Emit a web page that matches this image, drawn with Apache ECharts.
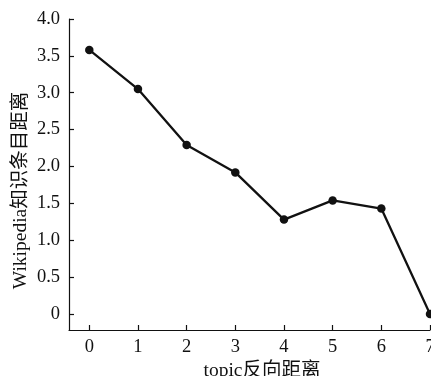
<!DOCTYPE html>
<html>
<head>
<meta charset="utf-8">
<script src="https://cdn.jsdelivr.net/npm/echarts@6/dist/echarts.min.js"></script>
<style>
  html, body { margin: 0; padding: 0; background: #fff; }
  #chart { width: 431px; height: 376px; }
</style>
</head>
<body>
<div id="chart"></div>
<script>
// topic 反向距离 vs Wikipedia 知识条目距离
const topicDist = [0, 1, 2, 3, 4, 5, 6, 7]
const wikiDist = [3.58, 3.05, 2.29, 1.92, 1.28, 1.54, 1.43, 0]
const xTicks = [0, 1, 2, 3, 4, 5, 6, 7]
const yTicks = [0, 0.5, 1.0, 1.5, 2.0, 2.5, 3.0, 3.5, 4.0]

const ink = '#111'
const font = '"Liberation Serif", "Noto Sans CJK SC", serif'

const chart = echarts.init(document.getElementById('chart'))
chart.setOption({
    animation: false,
    grid: { left: 69, right: 1, top: 19, bottom: 46, containLabel: false, outerBoundsMode: 'none' },
    xAxis: {
        type: 'value',
        min: -0.417,
        max: 7,
        name: 'topic反向距离',
        nameLocation: 'middle',
        nameGap: 27,
        nameTextStyle: { color: ink, fontSize: 19.5, fontFamily: font, padding: [0, 0, 0, 25] },
        axisLine: { onZero: false, lineStyle: { color: ink, width: 1.2 } },
        axisTick: { inside: true, length: 5, customValues: xTicks, lineStyle: { color: ink, width: 1.2 } },
        axisLabel: { customValues: xTicks, color: ink, fontSize: 18.5, fontFamily: font, margin: 8 },
        splitLine: { show: false }
    },
    yAxis: {
        type: 'value',
        min: -0.217,
        max: 4,
        name: 'Wikipedia知识条目距离',
        nameLocation: 'middle',
        nameGap: 38,
        nameMoveOverlap: false,
        nameTextStyle: { color: ink, fontSize: 19.5, fontFamily: font, padding: [0, 32, 0, 0] },
        axisLine: { show: true, onZero: false, lineStyle: { color: ink, width: 1.2 } },
        axisTick: { show: true, inside: true, length: 5, customValues: yTicks, lineStyle: { color: ink, width: 1.2 } },
        axisLabel: {
            customValues: yTicks, color: ink, fontSize: 18.5, fontFamily: font, margin: 9,
            formatter: v => v === 0 ? '0' : v.toFixed(1)
        },
        splitLine: { show: false }
    },
    series: [{
        type: 'line',
        data: topicDist.map((t, i) => [t, wikiDist[i]]),
        symbol: 'circle',
        symbolSize: 8.5,
        clip: false,
        lineStyle: { color: ink, width: 2.3 },
        itemStyle: { color: ink }
    }]
})
</script>
</body>
</html>
